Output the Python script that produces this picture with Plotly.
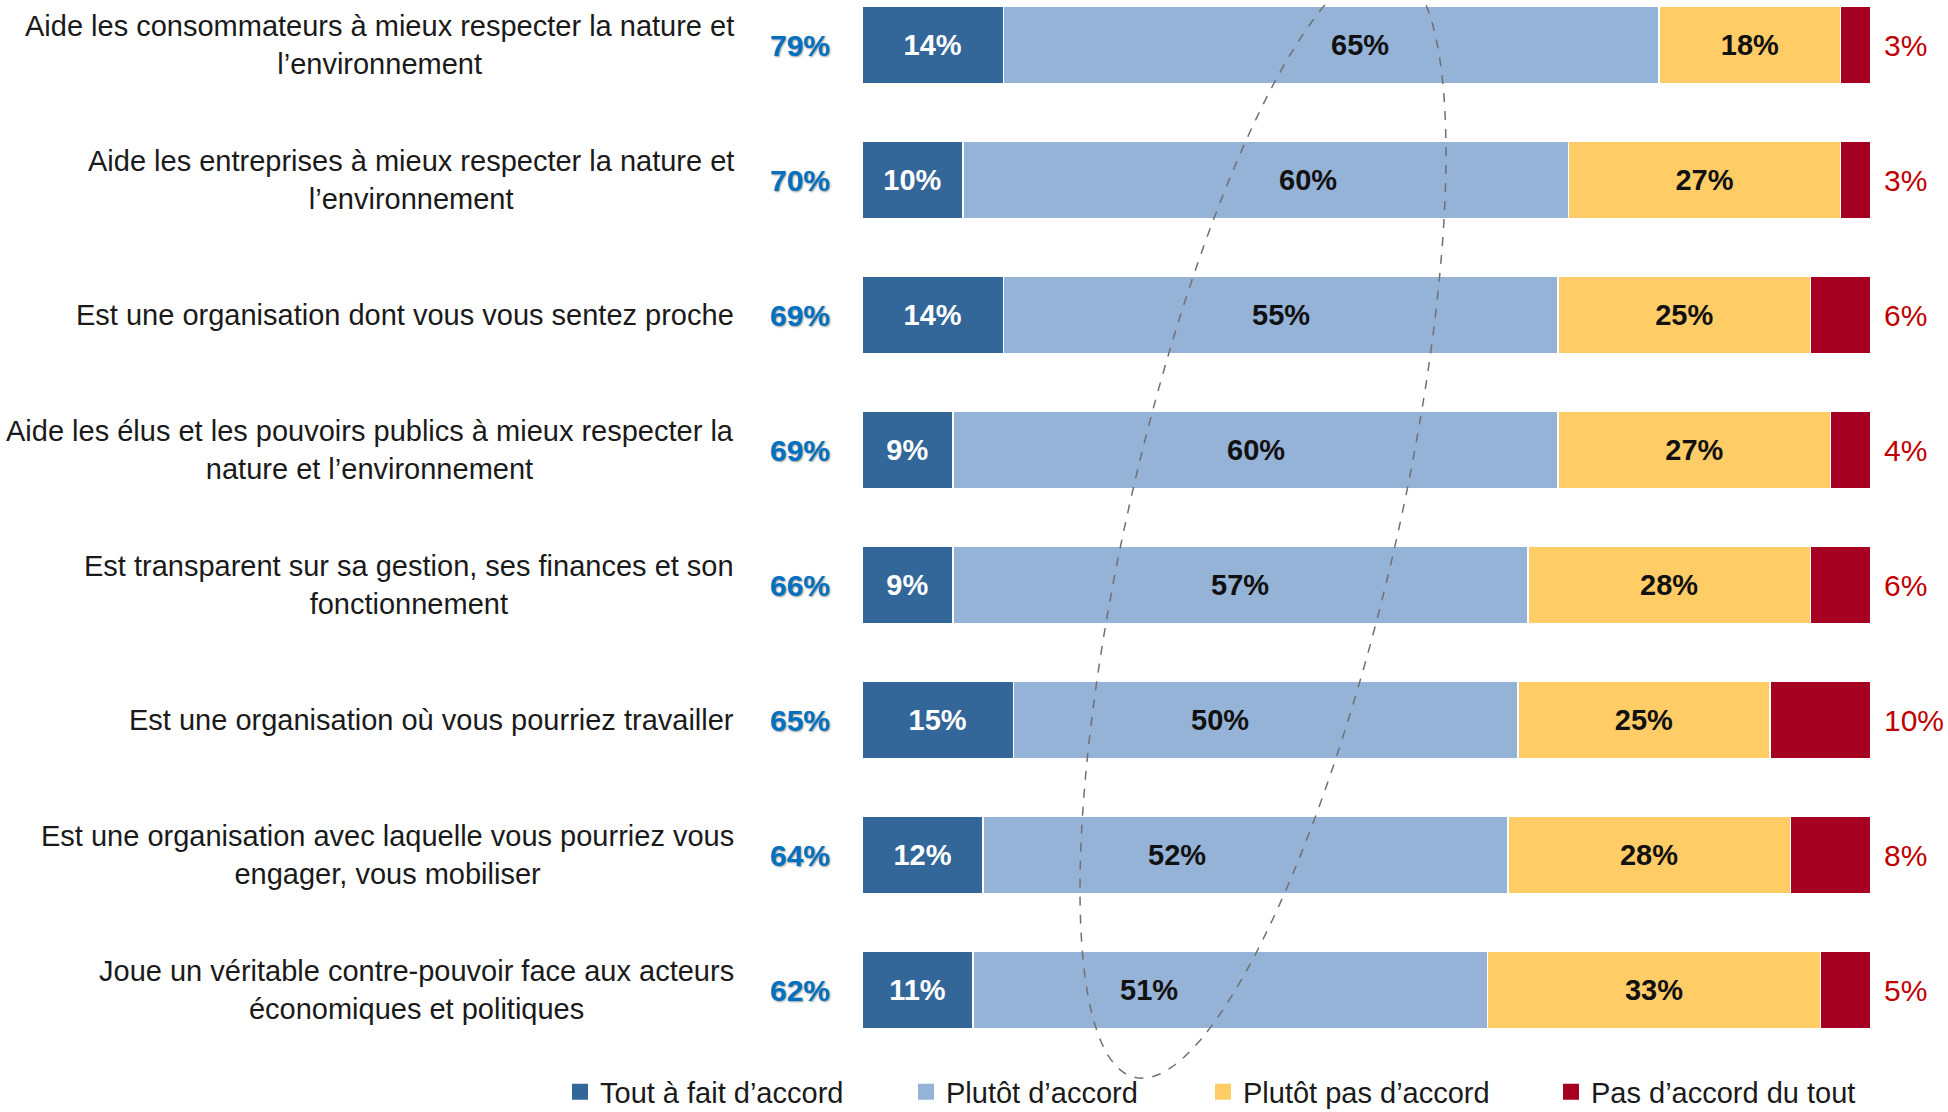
import numpy as np
import plotly.graph_objects as go

categories = [
    "Aide les consommateurs à mieux respecter la nature et<br>l’environnement",
    "Aide les entreprises à mieux respecter la nature et<br>l’environnement",
    "Est une organisation dont vous vous sentez proche",
    "Aide les élus et les pouvoirs publics à mieux respecter la<br>nature et l’environnement",
    "Est transparent sur sa gestion, ses finances et son<br>fonctionnement",
    "Est une organisation où vous pourriez travailler",
    "Est une organisation avec laquelle vous pourriez vous<br>engager, vous mobiliser",
    "Joue un véritable contre-pouvoir face aux acteurs<br>économiques et politiques",
]
tout_a_fait = [14, 10, 14, 9, 9, 15, 12, 11]
plutot = [65, 60, 55, 60, 57, 50, 52, 51]
plutot_pas = [18, 27, 25, 27, 28, 25, 28, 33]
pas_du_tout = [3, 3, 6, 4, 6, 10, 8, 5]
total_accord = [79, 70, 69, 69, 66, 65, 64, 62]
series_names = ["Tout à fait d’accord", "Plutôt d’accord", "Plutôt pas d’accord", "Pas d’accord du tout"]

W, H = 1948, 1112
FONT = "Liberation Sans"
colors = ["#336699", "#95B3D7", "#FFCC66", "#A50021"]
text_colors = ["white", "#111111", "#111111", "white"]
series = [tout_a_fait, plutot, plutot_pas, pas_du_tout]
# label nudges (in % units) used in the original to keep "Plutôt d'accord" labels clear of the ellipse
plutot_label_shift = [2.9, 4.2, 0, 0, 0, -4.5, -6.8, -8.1]

ypos = list(range(len(categories)))

fig = go.Figure()
legend_ids = ["legend", "legend2", "legend3", "legend4"]
for k, (name, vals) in enumerate(zip(series_names, series)):
    show_text = k in (0, 2)
    fig.add_trace(go.Bar(
        y=ypos, x=vals, orientation="h", name=name,
        marker=dict(color=colors[k], line=dict(color="white", width=1.5)),
        width=0.57,
        text=[f"{v}%" for v in vals] if show_text else None,
        textposition="inside" if show_text else "none",
        insidetextanchor="middle",
        textangle=0,
        textfont=dict(family=FONT, size=29, color=text_colors[k], weight="bold"),
        showlegend=False,
        hoverinfo="skip",
    ))
    # legend entry with a larger square swatch
    fig.add_trace(go.Scatter(
        x=[None], y=[None], mode="markers", name=name,
        marker=dict(symbol="square", size=16, color=colors[k]),
        legend=legend_ids[k], showlegend=True, hoverinfo="skip",
    ))

for i, cat in enumerate(categories):
    # "Plutôt d'accord" value labels
    fig.add_annotation(x=tout_a_fait[i] + plutot[i] / 2 + plutot_label_shift[i], xref="x",
                       y=i, yref="y", text=f"{plutot[i]}%", xanchor="center", yanchor="middle",
                       showarrow=False,
                       font=dict(family=FONT, size=29, color="#111111", weight="bold"))
    # left category labels
    fig.add_annotation(x=-0.125, xref="paper", y=i, yref="y", text=cat,
                       xanchor="right", yanchor="middle", align="center", showarrow=False,
                       font=dict(family=FONT, size=29, color="#1a1a1a"))
    # total agreement
    fig.add_annotation(x=-0.0614, xref="paper", y=i, yref="y", text=f"{total_accord[i]}%",
                       xanchor="center", yanchor="middle", showarrow=False,
                       font=dict(family=FONT, size=30, color="#0070C0", weight="bold",
                                 shadow="1px 1px 2px #9a9a9a"))
    # "Pas d'accord du tout" labels to the right
    fig.add_annotation(x=1.0109, xref="paper", y=i, yref="y", text=f"{pas_du_tout[i]}%",
                       xanchor="left", yanchor="middle", showarrow=False,
                       font=dict(family=FONT, size=30, color="#C00000"))

# dashed ellipse highlighting "Plutôt d'accord" column (pixel geometry -> data coords)
px_per_pct = 1009 / 100.0
x0_px = 862.0
px_per_row = 135.0
y0_px = 45.0
cx, cy = 1263.0, 522.0
a, b = 570.0, 134.0
theta = np.deg2rad(13.0)
t = np.linspace(0, 2 * np.pi, 200)
ux, uy = np.sin(theta), -np.cos(theta)  # major axis direction (upward, leaning right)
vx, vy = np.cos(theta), np.sin(theta)
ex = cx + a * np.cos(t) * ux + b * np.sin(t) * vx
ey = cy + a * np.cos(t) * uy + b * np.sin(t) * vy
dx = (ex - x0_px) / px_per_pct
dy = (ey - y0_px) / px_per_row
path = "M " + " L ".join(f"{x:.3f},{y:.4f}" for x, y in zip(dx, dy)) + " Z"
fig.add_shape(type="path", path=path, xref="x", yref="y",
              line=dict(color="#707070", width=1.5, dash="dash"), layer="above")

y_top = -y0_px / px_per_row
y_bot = y_top + H / px_per_row

legend_x = [574, 920, 1217, 1565]
layout_legends = {}
for k, lid in enumerate(legend_ids):
    layout_legends[lid] = dict(
        x=(legend_x[k] - 14) / W, y=1 - 1092 / H, xref="container", yref="paper",
        xanchor="left", yanchor="middle", orientation="h",
        font=dict(family=FONT, size=29, color="#1a1a1a"),
        bgcolor="rgba(0,0,0,0)", itemwidth=30, tracegroupgap=0,
    )

fig.update_layout(
    width=W, height=H,
    margin=dict(l=int(x0_px), r=W - int(x0_px) - 1009, t=0, b=0, autoexpand=False),
    barmode="stack",
    plot_bgcolor="white", paper_bgcolor="white",
    xaxis=dict(range=[0, 100], visible=False, fixedrange=True),
    yaxis=dict(range=[y_bot, y_top], visible=False, fixedrange=True),
    showlegend=True,
    **layout_legends,
)

fig.write_html("out.html", config={"displayModeBar": False},
               post_script="document.body.style.margin='0';")
